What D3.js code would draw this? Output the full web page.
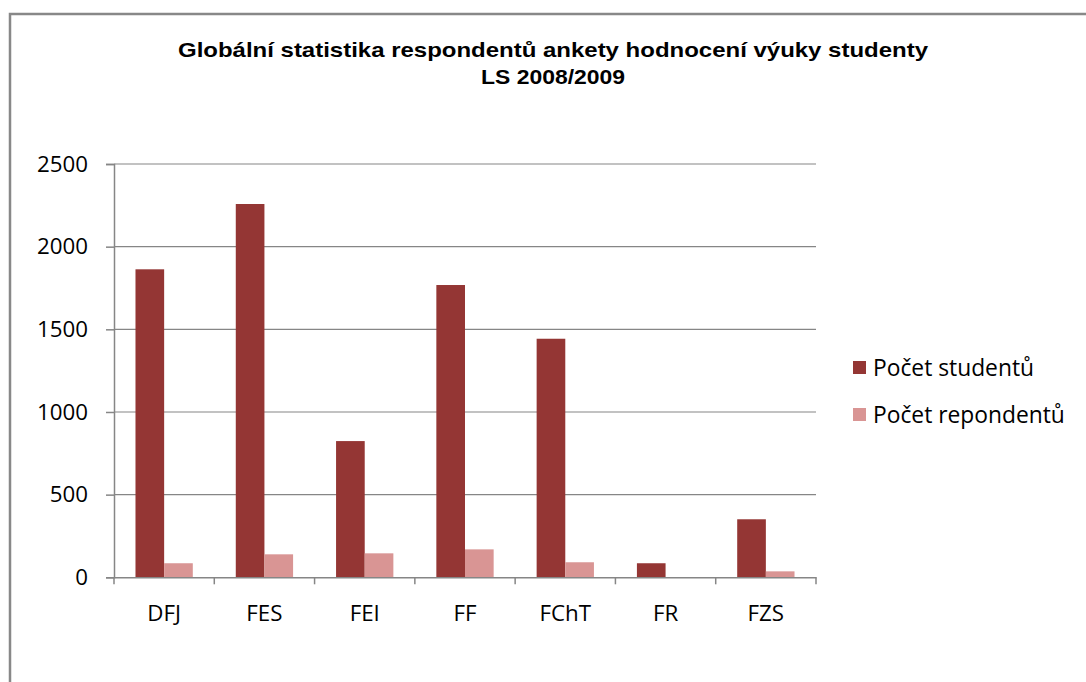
<!DOCTYPE html>
<html><head><meta charset="utf-8">
<script src="https://cdn.jsdelivr.net/npm/d3@7"></script>
<style>body{margin:0;background:#fff}svg{display:block}</style>
</head><body>
<svg id="c" width="1086" height="682"></svg>
<script>
const categories = ["DFJ","FES","FEI","FF","FChT","FR","FZS"];
const seriesNames = ["Počet studentů","Počet repondentů"];
const students = [1863, 2258, 824, 1768, 1443, 85, 351];
const respondents = [85, 139, 145, 169, 91, 0, 36];
const yTicks = [0, 500, 1000, 1500, 2000, 2500];
const titleLines = ["Globální statistika respondentů ankety hodnocení výuky studenty", "LS 2008/2009"];
const colors = ["#943634", "#D99594"];

(function(){
const svg = d3.select("#c");
svg.append("rect").attr("x",10).attr("y",14).attr("width",1100).attr("height",700)
  .attr("fill","none").attr("stroke","#888").attr("stroke-width",2.5);

const titleW = [750, 144];
svg.selectAll("text.title").data(titleLines).enter().append("text")
  .attr("x",553).attr("y",(d,i)=>57+i*27).attr("text-anchor","middle")
  .attr("font-family","Liberation Sans, Arial, sans-serif").attr("font-weight","bold")
  .attr("font-size",20.5).attr("fill","#000")
  .attr("textLength",(d,i)=>titleW[i]).attr("lengthAdjust","spacingAndGlyphs")
  .text(d=>d);

const pL=114, pR=816, pT=164, pB=577.3;
const x = d3.scaleBand().domain(categories).range([pL,pR]).paddingInner(0).paddingOuter(0);
const y = d3.scaleLinear().domain([0,2500]).range([pB,pT]);
const bw = x.bandwidth();
const barW = bw/3.5;
const x1 = d3.scaleBand().domain([0,1]).range([bw*0.75/3.5, bw*0.75/3.5 + 2*barW]);

const g = svg.append("g");
g.selectAll("line.grid").data(yTicks.filter(t=>t>0)).enter().append("line")
  .attr("x1",pL).attr("x2",pR).attr("y1",d=>y(d)).attr("y2",d=>y(d))
  .attr("stroke","#868686").attr("stroke-width",1.2);

const data = categories.map((c,i)=>({c, v:[students[i], respondents[i]]}));
const grp = g.selectAll("g.cat").data(data).enter().append("g")
  .attr("transform",d=>`translate(${x(d.c)},0)`);
grp.selectAll("rect").data(d=>d.v.map((v,k)=>({v,k}))).enter().append("rect")
  .attr("x",d=>x1(d.k)).attr("width",x1.bandwidth())
  .attr("y",d=>y(d.v)).attr("height",d=>pB-y(d.v))
  .attr("fill",d=>colors[d.k]);

const fontF = "Open Sans, sans-serif", fontS = 22.3;
const yAxis = d3.axisLeft(y).tickValues(yTicks).tickFormat(d3.format("d")).tickSize(8).tickPadding(18);
const ya = svg.append("g").attr("transform",`translate(${pL},0)`).call(yAxis);
ya.select(".domain").attr("stroke","#868686").attr("stroke-width",1.5);
ya.selectAll(".tick line").attr("stroke","#868686").attr("stroke-width",1.5);
ya.selectAll("text").attr("font-family",fontF).attr("font-size",fontS).attr("fill","#000");

const xAxis = d3.axisBottom(x).tickSize(0).tickPadding(28);
const xa = svg.append("g").attr("transform",`translate(0,${pB})`).call(xAxis);
xa.select(".domain").attr("stroke","#868686").attr("stroke-width",1.5);
xa.selectAll("text").attr("font-family",fontF).attr("font-size",fontS).attr("fill","#000");
const bounds = categories.map(c=>x(c)).concat([pR]);
xa.selectAll("line.bt").data(bounds).enter().append("line").attr("class","bt")
  .attr("x1",d=>d).attr("x2",d=>d).attr("y1",0).attr("y2",7)
  .attr("stroke","#868686").attr("stroke-width",1.5);

const lg = svg.append("g").attr("transform","translate(853,0)");
const items = lg.selectAll("g").data(seriesNames).enter().append("g")
  .attr("transform",(d,i)=>`translate(0,${368+i*47})`);
items.append("rect").attr("x",0).attr("y",-7).attr("width",13).attr("height",13).attr("fill",(d,i)=>colors[i]);
items.append("text").attr("x",20).attr("y",0).attr("dy","0.35em")
  .attr("font-family",fontF).attr("font-size",22.8).attr("fill","#000").text(d=>d);
})();
</script>
</body></html>
